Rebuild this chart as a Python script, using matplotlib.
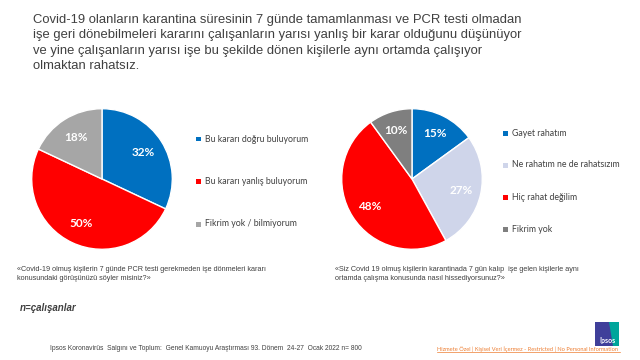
import matplotlib
matplotlib.use("Agg")
from matplotlib import pyplot as plt
from matplotlib.patches import Rectangle, Polygon

# data
left_labels = ["Bu kararı doğru buluyorum", "Bu kararı yanlış buluyorum", "Fikrim yok / bilmiyorum"]
left_values = [32, 50, 18]
left_colors = ["#0070C0", "#FF0000", "#A6A6A6"]

right_labels = ["Gayet rahatım", "Ne rahatım ne de rahatsızım", "Hiç rahat değilim", "Fikrim yok"]
right_values = [15, 27, 48, 10]
right_colors = ["#0070C0", "#CFD5EA", "#FF0000", "#7F7F7F"]

title = ("Covid-19 olanların karantina süresinin 7 günde tamamlanması ve PCR testi olmadan\n"
         "işe geri dönebilmeleri kararını çalışanların yarısı yanlış bir karar olduğunu düşünüyor\n"
         "ve yine çalışanların yarısı işe bu şekilde dönen kişilerle aynı ortamda çalışıyor\n"
         "olmaktan rahatsız.")
left_question = ("«Covid-19 olmuş kişilerin 7 günde PCR testi gerekmeden işe dönmeleri kararı\n"
                 "konusundaki görüşünüzü söyler misiniz?»")
right_question = ("«Siz Covid 19 olmuş kişilerin karantinada 7 gün kalıp  işe gelen kişilerle aynı\n"
                  "ortamda çalışma konusunda nasıl hissediyorsunuz?»")
base_note = "n=çalışanlar"
footer = "Ipsos Koronavirüs  Salgını ve Toplum:  Genel Kamuoyu Araştırması 93. Dönem  24-27  Ocak 2022 n= 800"
label_note = "Hizmete Özel | Kişisel Veri İçermez - Restricted | No Personal Information"

W, H = 640, 360
fig = plt.figure(figsize=(W / 100, H / 100), dpi=100)
fig.patch.set_facecolor("white")


def fx(x):
    return x / W


def fy(y):
    return 1 - y / H


def draw_pie(cx, cy, r, values, colors, pctdist):
    ax = fig.add_axes([fx(cx - r), fy(cy + r), 2 * r / W, 2 * r / H])
    ax.pie(values, colors=colors, startangle=90, counterclock=False,
           autopct=lambda p: "%d%%" % round(p), pctdistance=pctdist,
           wedgeprops=dict(edgecolor="white", linewidth=1),
           textprops=dict(color="white", fontsize=8.5, fontweight="bold", family="Lato"))
    ax.set_xlim(-1.01, 1.01)
    ax.set_ylim(-1.01, 1.01)
    ax.set_aspect("equal")
    return ax


def draw_legend(x, y0, dy, labels, colors):
    for i, (lab, col) in enumerate(zip(labels, colors)):
        y = y0 + i * dy
        fig.patches.append(Rectangle((fx(x - 2.5), fy(y + 2.5)), 5 / W, 5 / H,
                                     transform=fig.transFigure, facecolor=col, edgecolor="none"))
        fig.text(fx(x + 7), fy(y), lab, fontsize=6.3, family="Lato", color="#404040",
                 va="center", ha="left")


fig.text(fx(33), fy(14), title, fontsize=9.4, family="Liberation Sans", color="#404040",
         va="top", ha="left", linespacing=1.38)

draw_pie(102, 179, 71, left_values, left_colors, 0.7)
draw_legend(198, 139, 42.5, left_labels, left_colors)

draw_pie(412, 179, 71, right_values, right_colors, 0.72)
draw_legend(505, 133, 32, right_labels, right_colors)

fig.text(fx(17), fy(266), left_question, fontsize=5.2, family="Liberation Sans", color="#404040",
         va="top", ha="left", linespacing=1.35)
fig.text(fx(335), fy(266), right_question, fontsize=5.2, family="Liberation Sans", color="#404040",
         va="top", ha="left", linespacing=1.35)

fig.text(fx(20), fy(308), base_note, fontsize=7, family="Liberation Sans", style="italic",
         fontweight="bold", color="#404040", va="center", ha="left")

fig.text(fx(50), fy(349), footer, fontsize=4.75, family="Liberation Sans", color="#404040",
         va="center", ha="left")
fig.text(fx(437), fy(349), label_note, fontsize=4.1, family="Lato", color="#ED7D31",
         va="center", ha="left")
# underline under the orange note
fig.lines.append(plt.Line2D([fx(437), fx(620)], [fy(352), fy(352)], transform=fig.transFigure,
                            color="#ED7D31", linewidth=0.5))

# Ipsos logo
lx0, ly0, ls = 595, 322, 24
fig.patches.append(Rectangle((fx(lx0), fy(ly0 + ls)), ls / W, ls / H, transform=fig.transFigure,
                             facecolor="#3F3F9A", edgecolor="none"))
fig.patches.append(Polygon([(fx(lx0 + 14), fy(ly0)), (fx(lx0 + ls), fy(ly0)),
                            (fx(lx0 + ls), fy(ly0 + ls)), (fx(lx0 + 18), fy(ly0 + ls))],
                           closed=True, transform=fig.transFigure, facecolor="#00A59B",
                           edgecolor="none"))
fig.text(fx(lx0 + ls / 2), fy(ly0 + 18), "Ipsos", fontsize=5, family="Lato", fontweight="bold",
         color="white", ha="center", va="center")

fig.savefig("out.png", dpi=100)
